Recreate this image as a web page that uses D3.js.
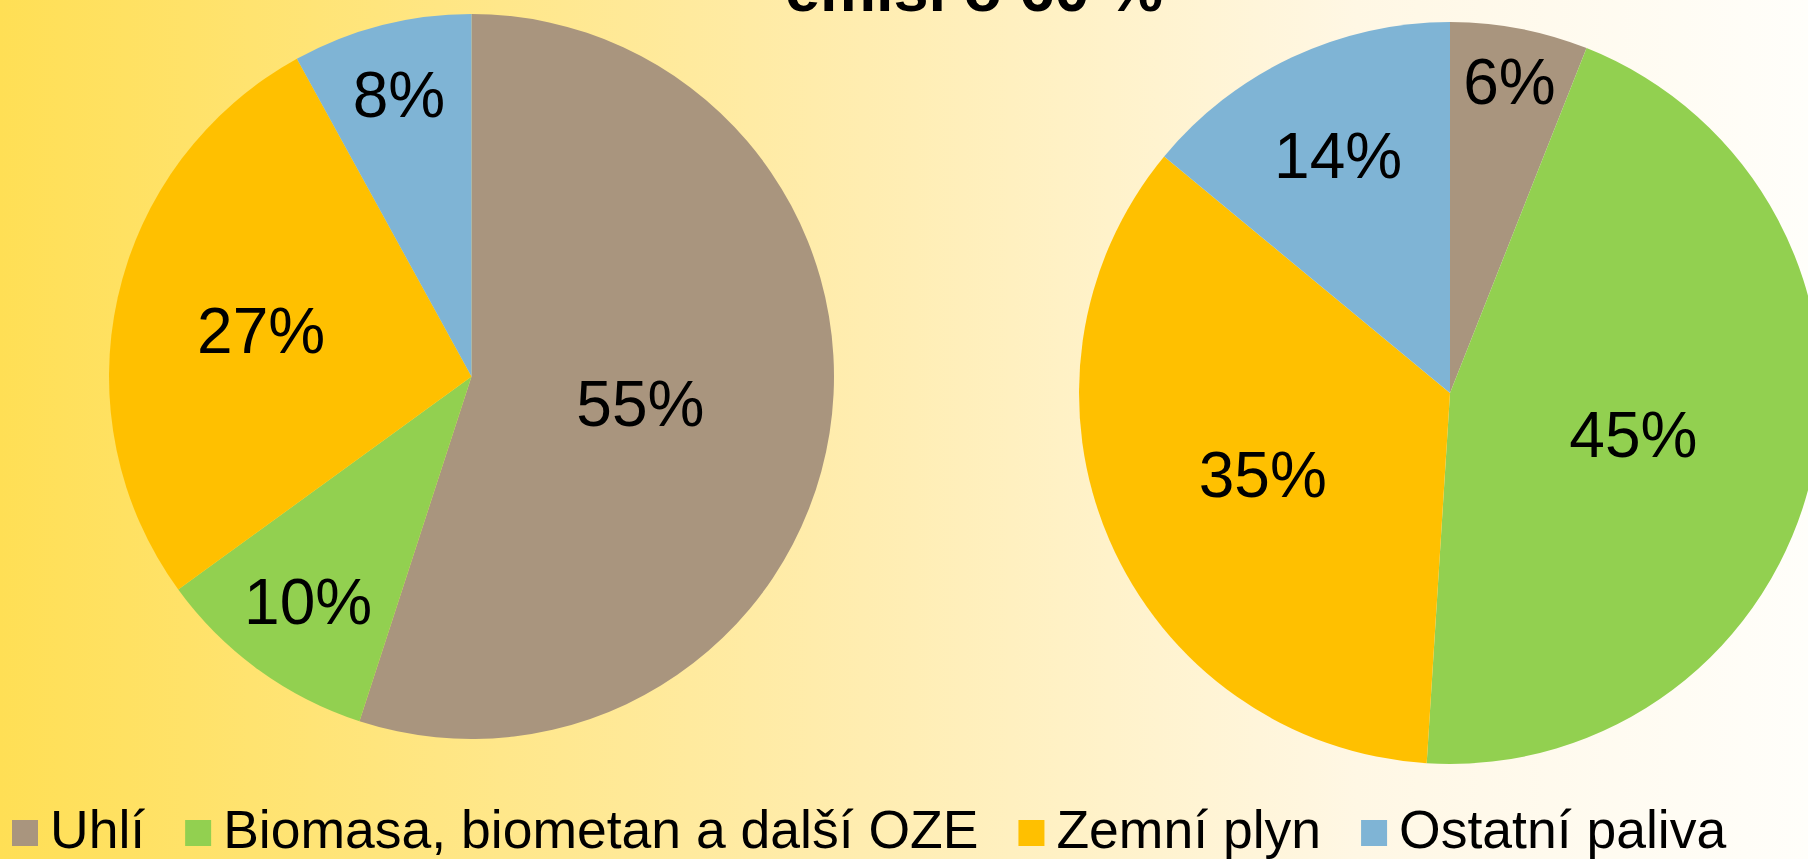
<!DOCTYPE html>
<html>
<head>
<meta charset="utf-8">
<script src="https://cdn.jsdelivr.net/npm/d3@7"></script>
<style>
  body { margin: 0; overflow: hidden; }
  text { font-family: "Liberation Sans", Arial, sans-serif; }
</style>
</head>
<body>
<script>

var Width = 1808;      // of SVG
var Height = 859;     // of SVG

// data
var Categories = ["Uhlí", "Biomasa, biometan a další OZE", "Zemní plyn", "Ostatní paliva"];
var ValuesLeft = [55, 10, 27, 8];
var ValuesRight = [6, 45, 35, 14];
var TitleText = "emisí o 60 %";

var Colors = ["#a9957e", "#92d050", "#ffc000", "#7fb4d5"];


function main () {

  var svg = makeSVG();

  makeBackground(svg);

  var color = d3.scaleOrdinal()
    .domain(Categories)
    .range(Colors);

  // the two pies
  makePie(svg, ValuesLeft, color, 471.5, 376.5, 362.5);
  makePie(svg, ValuesRight, color, 1450, 393, 371);

  // title, mostly cut off at the top
  svg.append("text")
    .attr("x", 974)
    .attr("y", 11)
    .attr("text-anchor", "middle")
    .style("font-size", "63px")
    .style("font-weight", "bold")
    .text(TitleText);

  makeLegend(svg, color);
}

function makeBackground (svg) {
  var grad = svg.append("defs")
    .append("linearGradient")
    .attr("id", "bg")
    .attr("x1", "0%").attr("x2", "100%")
    .attr("y1", "0%").attr("y2", "0%");
  grad.append("stop").attr("offset", "0%").attr("stop-color", "#ffdf55");
  grad.append("stop").attr("offset", "45%").attr("stop-color", "#ffecab");
  grad.append("stop").attr("offset", "75%").attr("stop-color", "#fff7e4");
  grad.append("stop").attr("offset", "100%").attr("stop-color", "#fffefa");

  svg.append("rect")
    .attr("width", Width)
    .attr("height", Height)
    .attr("fill", "url(#bg)");
}

function makePie (svg, values, color, cx, cy, r) {

  var pie = d3.pie()
    .sort(null)
    .value(function(d) { return d; });

  var arc = d3.arc()
    .innerRadius(0)
    .outerRadius(r);

  var total = d3.sum(values);
  var arcs = pie(values);

  var g = svg.append("g")
    .attr("transform", "translate(" + cx + "," + cy + ")");

  g.selectAll("path.slice")
    .data(arcs)
    .enter()
    .append("path")
    .attr("class", "slice")
    .attr("d", arc)
    .attr("fill", function(d, i) { return color(Categories[i]); });

  // labels: smaller slices get pushed further out (like excel best fit)
  g.selectAll("text.lab")
    .data(arcs)
    .enter()
    .append("text")
    .attr("class", "lab")
    .attr("x", function(d) {
      var mid = (d.startAngle + d.endAngle) / 2;
      return Math.sin(mid) * labelRadius(d.data / total * 100) * r;
    })
    .attr("y", function(d) {
      var mid = (d.startAngle + d.endAngle) / 2;
      return -Math.cos(mid) * labelRadius(d.data / total * 100) * r;
    })
    .attr("dy", "0.36em")
    .attr("text-anchor", "middle")
    .style("font-size", "64px")
    .text(function(d) { return Math.round(d.data / total * 100) + "%"; });
}

function labelRadius (pct) {
  return Math.min(0.86, 1.165 - 0.173 * Math.log(pct));
}

function makeLegend (svg, color) {
  var x = 12;
  var base = 848;
  var box = 26;

  Categories.forEach(function(c, i) {
    svg.append("rect")
      .attr("x", x)
      .attr("y", base - box - 2)
      .attr("width", box)
      .attr("height", box)
      .attr("fill", color(c));

    var t = svg.append("text")
      .attr("x", x + box + 12)
      .attr("y", base)
      .style("font-size", "53.5px")
      .text(c);

    x = x + box + 12 + t.node().getComputedTextLength() + 40;
  });
}

function makeSVG () {
  var svg = d3.select("body")
    .append("svg")
    .attr("width", Width)
    .attr("height", Height);
  return svg
}

main();

</script>
</body>
</html>
